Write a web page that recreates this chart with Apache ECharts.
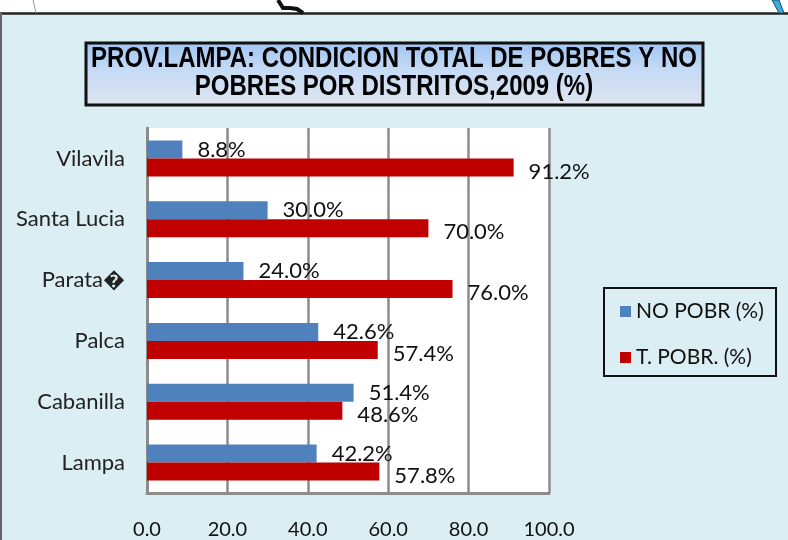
<!DOCTYPE html>
<html>
<head>
<meta charset="utf-8">
<script src="https://cdn.jsdelivr.net/npm/echarts@6/dist/echarts.min.js"></script>
<style>
  html, body { margin: 0; padding: 0; background: #fff; }
  #chart { width: 788px; height: 540px; }
</style>
</head>
<body>
<div id="chart"></div>
<script>
// distritos, de arriba hacia abajo
var distritos = ['Vilavila', 'Santa Lucia', 'Parata\uFFFD', 'Palca', 'Cabanilla', 'Lampa'];
var noPobres = [8.8, 30.0, 24.0, 42.6, 51.4, 42.2];
var totalPobres = [91.2, 70.0, 76.0, 57.4, 48.6, 57.8];
var serieNombres = ['NO POBR (%)', 'T. POBR. (%)'];
var tituloLineas = ['PROV.LAMPA: CONDICION TOTAL DE POBRES Y NO', 'POBRES POR DISTRITOS,2009 (%)'];

var fuente = 'Lato, "Open Sans", sans-serif';
var fuenteTitulo = 'bold 30px "Liberation Sans", Arial, sans-serif';
var chart = echarts.init(document.getElementById('chart'));

var option = {
    backgroundColor: '#dbeef4',
    animation: false,
    legend: {
        orient: 'vertical',
        left: 615,
        top: 296,
        itemWidth: 11,
        itemHeight: 11,
        itemGap: 25,
        icon: 'rect',
        textStyle: {fontFamily: fuente, fontSize: 21, color: '#111'},
        data: serieNombres
    },
    grid: {
        left: 147,
        right: 239,
        top: 128,
        bottom: 43,
        show: true,
        backgroundColor: '#fff',
        borderWidth: 0
    },
    xAxis: {
        type: 'value',
        min: 0,
        max: 100,
        interval: 20,
        axisLine: {show: true, lineStyle: {color: '#8c8c8c', width: 3}},
        axisTick: {show: false},
        splitLine: {lineStyle: {color: '#8c8c8c', width: 2.5}},
        axisLabel: {
            margin: 27,
            fontFamily: fuente,
            fontSize: 20,
            color: '#111',
            formatter: function (v) { return v.toFixed(1); }
        }
    },
    yAxis: {
        type: 'category',
        inverse: true,
        data: distritos,
        axisLine: {lineStyle: {color: '#8c8c8c', width: 3}},
        axisTick: {show: false},
        axisLabel: {margin: 22, fontFamily: fuente, fontSize: 22, color: '#222'}
    },
    graphic: [
        // franja blanca superior y borde
        {type: 'rect', z: -1, shape: {x: 0, y: 0, width: 788, height: 13}, style: {fill: '#fff'}},
        {type: 'line', shape: {x1: 0, y1: 13.5, x2: 788, y2: 13.5}, style: {stroke: '#222', lineWidth: 2.5}},
        {type: 'line', shape: {x1: 1, y1: 13, x2: 1, y2: 540}, style: {stroke: '#666', lineWidth: 2}},
        {type: 'line', shape: {x1: 33, y1: 0, x2: 36, y2: 13}, style: {stroke: '#999', lineWidth: 1}},
        {type: 'polyline', shape: {points: [[278, 0], [283, 8], [290, 8], [297, 9], [303, 13]]},
            style: {stroke: '#111', lineWidth: 4, fill: null}},
        {type: 'polygon', shape: {points: [[772, 0], [779, 0], [784, 13], [779, 13]]},
            style: {fill: '#3fa9dd', stroke: '#1d4f73', lineWidth: 1}},
        // caja del titulo
        {
            type: 'rect', z: 0,
            shape: {x: 86, y: 43, width: 617, height: 62},
            style: {
                fill: new echarts.graphic.LinearGradient(0, 0, 0, 1, [
                    {offset: 0, color: '#9fc4f3'},
                    {offset: 0.45, color: '#c6dbf5'},
                    {offset: 1, color: '#dfe5f0'}
                ]),
                stroke: '#111',
                lineWidth: 3
            }
        },
        {
            type: 'text', z: 1, x: 394, y: 59, scaleX: 0.80,
            style: {text: tituloLineas[0], font: fuenteTitulo, fill: '#000',
                textAlign: 'center', textVerticalAlign: 'middle'}
        },
        {
            type: 'text', z: 1, x: 394, y: 87, scaleX: 0.80,
            style: {text: tituloLineas[1], font: fuenteTitulo, fill: '#000',
                textAlign: 'center', textVerticalAlign: 'middle'}
        },
        // caja de la leyenda
        {
            type: 'rect', z: 0,
            shape: {x: 604, y: 288, width: 172, height: 88},
            style: {fill: '#dbeef4', stroke: '#111', lineWidth: 2}
        }
    ],
    series: [
        {
            name: serieNombres[0],
            type: 'bar',
            data: noPobres,
            barWidth: 18,
            barGap: '0%',
            itemStyle: {color: '#4f81bd'},
            label: {
                show: true,
                position: 'right',
                distance: 15,
                offset: [0, 0],
                fontFamily: fuente,
                fontSize: 22,
                color: '#111',
                formatter: function (p) { return p.value.toFixed(1) + '%'; }
            }
        },
        {
            name: serieNombres[1],
            type: 'bar',
            data: totalPobres,
            barWidth: 18,
            itemStyle: {color: '#c00000'},
            label: {
                show: true,
                position: 'right',
                distance: 15,
                offset: [0, 4],
                fontFamily: fuente,
                fontSize: 22,
                color: '#111',
                formatter: function (p) { return p.value.toFixed(1) + '%'; }
            }
        }
    ]
};

chart.setOption(option);
</script>
</body>
</html>
